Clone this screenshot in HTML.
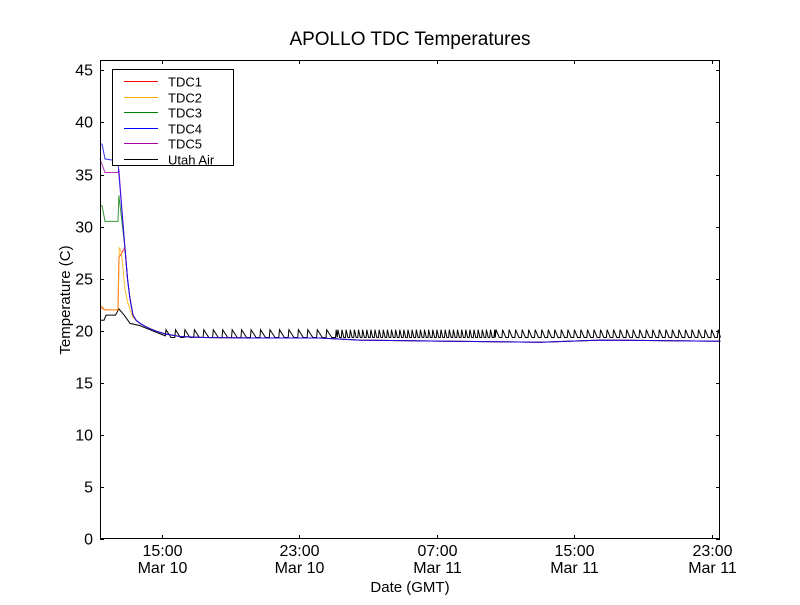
<!DOCTYPE html>
<html><head><meta charset="utf-8"><style>
body{margin:0;background:#fff}
svg text{font-family:"Liberation Sans","DejaVu Sans",sans-serif}
</style></head><body>
<svg id="chart" width="800" height="600" xmlns="http://www.w3.org/2000/svg">
<rect width="800" height="600" fill="#fff"/>
<text x="410" y="45" font-size="19" text-anchor="middle">APOLLO TDC Temperatures</text>
<g id="plot"></g>
<rect x="100.5" y="60.5" width="619" height="478" fill="none" stroke="#000" stroke-width="1"/>
<text transform="translate(70,300) rotate(-90)" font-size="15" text-anchor="middle">Temperature (C)</text>
<text x="410" y="592" font-size="15" text-anchor="middle">Date (GMT)</text>
<g>
<rect x="112.5" y="69.5" width="121" height="96" fill="#fff" stroke="#000"/>
<g id="legend"></g>
</g>
</svg>
<script>
const yTicks=[0,5,10,15,20,25,30,35,40,45];
const xTickHours=[3.6,11.6,19.6,27.6,35.6];
const xTickTime=["15:00","23:00","07:00","15:00","23:00"];
const xTickDate=["Mar 10","Mar 10","Mar 11","Mar 11","Mar 11"];
const seriesNames=["TDC1","TDC2","TDC3","TDC4","TDC5","Utah Air"];
const seriesColors=["#ff0000","#ffaa00","#008000","#0000ff","#aa00aa","#000000"];
const decayH=[1.45,1.6,1.75,1.92,2.1,2.33,2.6,2.91,3.3,3.78,4.65,6,8.73,12.8,15.1,20.4,25.6,29.1,36.1];
const decayV=[28,25,23,21.5,21.0,20.7,20.45,20.2,19.95,19.7,19.45,19.35,19.3,19.3,19.1,19.0,18.9,19.1,19.0];
const tdc1H=[0,0.29,1.05,1.1].concat(decayH);
const tdc1V=[22.3,22,22,27].concat(decayV);
const tdc2H=[0,0.29,1.05,1.12,1.25].concat(decayH);
const tdc2V=[22.5,22,22,28,27.5,24,22.8,22,21.3,21.0,20.7,20.45,20.2,19.95,19.7,19.45,19.35,19.3,19.3,19.1,19.0,18.9,19.1,19.0];
const tdc3H=[0,0.12,0.29,1.05,1.1].concat(decayH);
const tdc3V=[32,32,30.5,30.5,33].concat(decayV);
const tdc4H=[0,0.12,0.29,1.05,1.1].concat(decayH);
const tdc4V=[38,37.9,36.5,36.3,35].concat(decayV);
const tdc5H=[0,0.29,1.05,1.1].concat(decayH);
const tdc5V=[36.5,35.2,35.2,35.5].concat(decayV);
const airH=[0,0.23,0.35,0.9,1.1,1.4,1.75,2.3,2.9,3.8];
const airV=[21,21,21.5,21.5,22.1,21.5,20.7,20.5,20.1,19.5];
// sawtooth segments: [startHour, endHour, periodHours]
const toothStart=[3.8,13.8,23.0];
const toothEnd=[13.8,23.0,36.1];
const toothPeriod=[0.55,0.24,0.38];
const toothLow=19.35, toothHigh=20.1;

const X0=100,X1=720,Y0=539,Y1=60,H0=0,H1=36.07,V0=0,V1=46;
const xs=h=>X0+(h-H0)/(H1-H0)*(X1-X0);
const ys=v=>Y0-(v-V0)/(V1-V0)*(Y0-Y1);
const NS="http://www.w3.org/2000/svg";
const plot=document.getElementById('plot');
function mk(tag,attrs,parent){const e=document.createElementNS(NS,tag);for(const k in attrs)e.setAttribute(k,attrs[k]);parent.appendChild(e);return e;}

yTicks.forEach(v=>{
 const y=Math.round(ys(v))+0.5;
 const g=mk('g',{},plot);
 
 
 mk('line',{x1:X0,x2:X0+4,y1:y,y2:y,stroke:'#000'},g);
 mk('line',{x1:X1-4,x2:X1,y1:y,y2:y,stroke:'#000'},g);
 const t=mk('text',{x:X0-7,y:y+5,'font-size':16,'text-anchor':'end'},g);t.textContent=v;
});
xTickHours.forEach((h,i)=>{
 const x=Math.round(xs(h))+0.5;
 const g=mk('g',{},plot);
 
 
 mk('line',{x1:x,x2:x,y1:Y0,y2:Y0-4,stroke:'#000'},g);
 mk('line',{x1:x,x2:x,y1:Y1,y2:Y1+4,stroke:'#000'},g);
 const t=mk('text',{x:x,y:556,'font-size':16,'text-anchor':'middle'},g);t.textContent=xTickTime[i];
 const t2=mk('text',{x:x,y:573,'font-size':16,'text-anchor':'middle'},g);t2.textContent=xTickDate[i];
});

const airHs=airH.slice(),airVs=airV.slice();
for(let s=0;s<toothStart.length;s++){
 for(let h=toothStart[s];h<toothEnd[s];h+=toothPeriod[s]){
  airHs.push(h+0.04);airVs.push(toothHigh);
  airHs.push(Math.min(h+toothPeriod[s]*0.6,toothEnd[s]));airVs.push(toothLow);
  airHs.push(Math.min(h+toothPeriod[s],toothEnd[s]));airVs.push(toothLow);
 }
}
const allH=[tdc1H,tdc2H,tdc3H,tdc4H,tdc5H,airHs];
const allV=[tdc1V,tdc2V,tdc3V,tdc4V,tdc5V,airVs];
const order=[5,0,1,2,4,3];
order.forEach(i=>{
 const d=allH[i].map((h,j)=>(j?'L':'M')+xs(h).toFixed(1)+','+ys(allV[i][j]).toFixed(1)).join('');
 const p=mk('path',{d:d,fill:'none',stroke:seriesColors[i],'stroke-width':1,'stroke-opacity':i==5?1:0.8},plot);
 
 
});
const lg=document.getElementById('legend');
seriesNames.forEach((n,i)=>{
 const y=Math.round(81+i*15.5)+0.5;
 const g=mk('g',{},lg);
 
 
 mk('line',{x1:124,x2:158,y1:y,y2:y,stroke:seriesColors[i],'stroke-width':1},g);
 const t=mk('text',{x:168,y:y+5,'font-size':13},g);t.textContent=n;
});
</script>
</body></html>
